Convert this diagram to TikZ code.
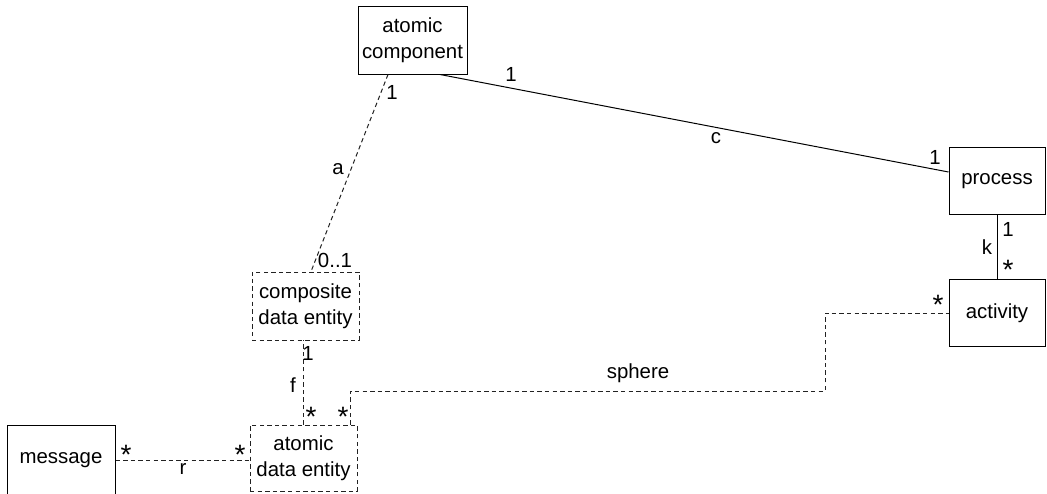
\documentclass[tikz,border=0pt]{standalone}
\usepackage{fontspec}
\setmainfont{Liberation Sans}
\usepackage{tikz}
\usepackage{xcolor}
\definecolor{umlLine}{HTML}{000000}
\definecolor{umlDash}{HTML}{222222}

\tikzset{
  umlBox/.style={draw=umlLine, line width=0.5pt, fill=white, inner sep=0pt, align=center,
    font=\fontsize{10.2}{13}\selectfont},
  umlDashBox/.style={umlBox, draw=umlDash, line width=0.45pt, dash pattern=on 2.2pt off 1.6pt},
  umlLink/.style={draw=umlLine, line width=0.5pt},
  umlDashLink/.style={draw=umlDash, line width=0.5pt, dash pattern=on 2.2pt off 1.6pt},
  umlText/.style={inner sep=0pt, font=\fontsize{10.2}{12}\selectfont},
  umlMany/.style={inner sep=0pt, font=\fontsize{14}{14}\selectfont}
}

\begin{document}
\begin{tikzpicture}[x=0.5pt, y=-0.5pt]
  \useasboundingbox (0,0) rectangle (1047,493);
  \node[umlBox, minimum width=54.5pt, minimum height=34pt] (atomComp) at (412.5,40) {atomic\\component};
  \node[umlBox, minimum width=48pt, minimum height=33.5pt] (proc) at (997,181) {process};
  \node[umlBox, minimum width=48pt, minimum height=33.5pt] (activ) at (997,313) {activity};
  \node[umlDashBox, minimum width=53.5pt, minimum height=34pt] (compData) at (305.5,306) {composite\\data entity};
  \node[umlDashBox, minimum width=53.5pt, minimum height=33pt] (atomData) at (303.5,458) {atomic\\data entity};
  \node[umlBox, minimum width=54pt, minimum height=35pt] (msg) at (61,460) {message};
  \coordinate (sphereBend) at (825,391);

  \draw[umlDashLink] ([xshift=-12.25pt]atomComp.south) -- ([xshift=2.75pt]compData.north);
  \draw[umlLink] ([xshift=13.75pt]atomComp.south) -- ([yshift=4.5pt]proc.west);
  \draw[umlLink] (proc.south) -- (activ.north);
  \draw[umlDashLink] (atomData.north) -- (atomData.north |- compData.south);
  \draw[umlDashLink] ([xshift=-3.5pt]atomData.north east) |- (sphereBend) |- (activ.west);
  \draw[umlDashLink] (msg.east) -- (msg.east -| atomData.west);

  \node[umlText] (aOne) at (392,92) {1};
  \node[umlText] (aName) at (338,169) {a};
  \node[umlText] (aZeroOne) at (335,260) {0..1};
  \node[umlText] (cOne) at (511,74) {1};
  \node[umlText] (cName) at (716,138) {c};
  \node[umlText] (cOneB) at (935,157) {1};
  \node[umlText] (kOne) at (1008,229) {1};
  \node[umlText] (kName) at (987,247) {k};
  \node[umlMany] (kMany) at (1008,270) {*};
  \node[umlMany] (sMany) at (938,305) {*};
  \node[umlText] (sName) at (638,373) {sphere};
  \node[umlText] (fOne) at (308,353) {1};
  \node[umlText] (fName) at (293,385) {f};
  \node[umlMany] (fMany) at (311,417) {*};
  \node[umlMany] (sManyB) at (343,417) {*};
  \node[umlMany] (rMany) at (126,455) {*};
  \node[umlText] (rName) at (183,469) {r};
  \node[umlMany] (rManyB) at (240,455) {*};
\end{tikzpicture}
\end{document}
